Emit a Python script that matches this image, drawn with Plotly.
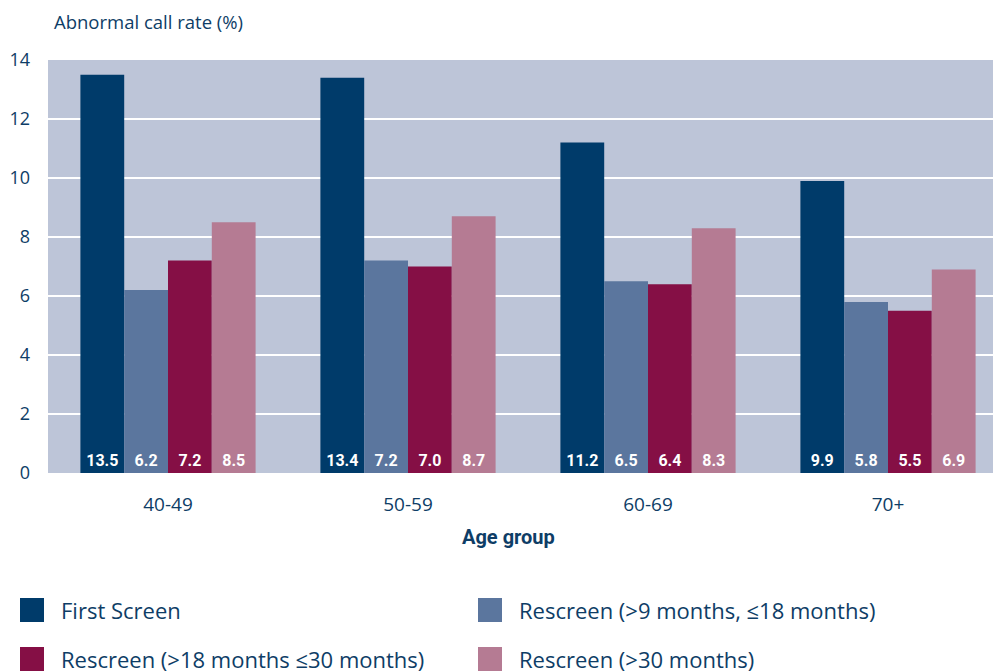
import plotly.graph_objects as go

# Abnormal call rate by age group and screening round
age_groups = ["40-49", "50-59", "60-69", "70+"]
series_names = [
    "First Screen",
    "Rescreen (>9 months, \u226418 months)",
    "Rescreen (>18 months \u226430 months)",
    "Rescreen (>30 months)",
]
first_screen = [13.5, 13.4, 11.2, 9.9]
rescreen_9_18 = [6.2, 7.2, 6.5, 5.8]
rescreen_18_30 = [7.2, 7.0, 6.4, 5.5]
rescreen_30 = [8.5, 8.7, 8.3, 6.9]
y_ticks = [0, 2, 4, 6, 8, 10, 12, 14]

series_values = [first_screen, rescreen_9_18, rescreen_18_30, rescreen_30]
colors = ["#003b6a", "#5b769e", "#850f45", "#b57b93"]
text_color = "#0e3d66"

W, H = 993, 671
L, R, T, B = 48, 0, 60, 198
plot_w = W - L - R
plot_h = H - T - B

fig = go.Figure()
for name, vals, col in zip(series_names, series_values, colors):
    fig.add_trace(go.Bar(
        x=age_groups, y=vals, name=name,
        marker=dict(color=col, line=dict(width=0)),
        text=[f"{v:.1f}" for v in vals],
        textposition="inside", insidetextanchor="start",
        textangle=0, constraintext="none",
        textfont=dict(family="Roboto", size=16, color="white", weight="bold"),
        showlegend=False,
    ))

fig.update_layout(
    width=W, height=H,
    margin=dict(l=L, r=R, t=T, b=B, autoexpand=False),
    paper_bgcolor="white",
    plot_bgcolor="#bdc5d8",
    barmode="group", bargap=0.27, bargroupgap=0,
    font=dict(family="Open Sans", color=text_color),
    xaxis=dict(
        range=[-0.5, 3.4375], showgrid=False, zeroline=False,
        ticks="", tickfont=dict(size=19, color=text_color),
        ticklabelstandoff=18,
    ),
    yaxis=dict(
        range=[0, 14], tickvals=y_ticks, showgrid=True,
        gridcolor="white", gridwidth=2, zeroline=False, ticks="",
        tickfont=dict(size=18, color=text_color), ticklabelstandoff=17,
    ),
)

def px_to_paper_x(px):
    return (px - L) / plot_w

def px_to_paper_y(py):
    return (H - B - py) / plot_h

annotations = [
    dict(text="Abnormal call rate (%)", xref="paper", yref="paper",
         x=px_to_paper_x(52), y=px_to_paper_y(22), xanchor="left", yanchor="middle",
         showarrow=False, font=dict(size=18.5, color=text_color)),
    dict(text="<b>Age group</b>", xref="paper", yref="paper",
         x=px_to_paper_x(508), y=px_to_paper_y(537), xanchor="center", yanchor="middle",
         showarrow=False,
         font=dict(family="Roboto", size=20, color=text_color)),
]

# Two-column legend below the chart
shapes = []
legend_pos = [(20, 59, 610), (478, 517, 610), (20, 59, 659), (478, 517, 659)]
for (sx, tx, cy), name, col in zip(legend_pos, series_names, colors):
    shapes.append(dict(
        type="rect", xref="paper", yref="paper",
        x0=px_to_paper_x(sx), x1=px_to_paper_x(sx + 24),
        y0=px_to_paper_y(cy - 12), y1=px_to_paper_y(cy + 12),
        fillcolor=col, line=dict(width=0), layer="above",
    ))
    annotations.append(dict(
        text=name.replace(">", "&gt;"), xref="paper", yref="paper",
        x=px_to_paper_x(tx), y=px_to_paper_y(cy), xanchor="left", yanchor="middle",
        showarrow=False, font=dict(size=22, color=text_color),
    ))

fig.update_layout(annotations=annotations, shapes=shapes)

fig.write_html("out.html")
